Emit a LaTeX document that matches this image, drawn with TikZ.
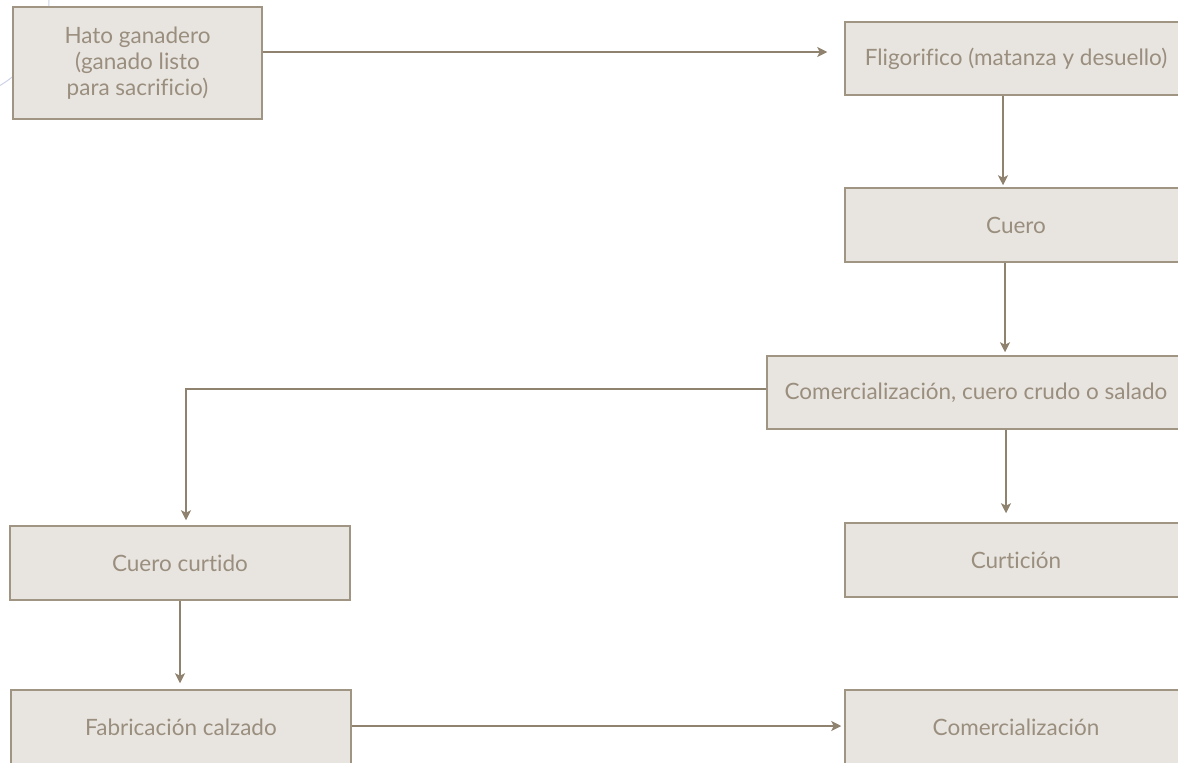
\documentclass[tikz,border=0pt]{standalone}
\usepackage{fontspec}
\setmainfont{Lato}[Ligatures={NoCommon,NoRare,NoDiscretionary}]
\usetikzlibrary{arrows.meta}
\definecolor{boxfill}{HTML}{E8E5E0}
\definecolor{boxline}{HTML}{A09482}
\definecolor{txt}{HTML}{9A8E7E}
\definecolor{arrcol}{HTML}{8F826F}
\definecolor{deco}{HTML}{CDD2E6}
\tikzset{
  stage/.style={draw=boxline, line width=1.5pt, fill=boxfill, text=txt,
    font=\fontsize{22.5}{26}\selectfont, align=center, inner sep=0pt},
  flow/.style={draw=arrcol, line width=1.3pt,
    -{Stealth[length=10pt,width=10pt,inset=2.5pt]}}
}
\begin{document}
\begin{tikzpicture}[x=1pt,y=-1pt]
\useasboundingbox (0,0) rectangle (1178,763);
\clip (0,0) rectangle (1178,763);
\draw[deco, line width=1pt] (-50,0) circle[radius=99];
\node[stage, minimum width=249pt, minimum height=112pt] (hato) at (137.5,63)
  {Hato ganadero\\(ganado listo\\para sacrificio)};
\node[stage, minimum width=342pt, minimum height=73pt] (flig) at (1016,58.5)
  {Fligorifico (matanza y desuello)};
\node[stage, minimum width=342pt, minimum height=74pt] (cuero) at (1016,225)
  {Cuero};
\node[stage, minimum width=418pt, minimum height=73pt] (comcs) at (976,392.5)
  {Comercialización, cuero crudo o salado};
\node[stage, minimum width=342pt, minimum height=74pt] (curt) at (1016,560)
  {Curtición};
\node[stage, minimum width=340pt, minimum height=74pt] (curtido) at (180,563)
  {Cuero curtido};
\node[stage, minimum width=340pt, minimum height=74pt] (fab) at (181,727)
  {Fabricación calzado};
\node[stage, minimum width=342pt, minimum height=74pt] (comerc) at (1016,727)
  {Comercialización};
\coordinate (bend) at (186,389);
\draw[flow, shorten >=17pt] (hato.east |- 0,52) -- (flig.west |- 0,52);
\draw[flow, shorten >=2pt] (flig.south -| 1003,0) -- (cuero.north -| 1003,0);
\draw[flow, shorten >=3pt] (cuero.south -| 1005,0) -- (comcs.north -| 1005,0);
\draw[flow, shorten >=9pt] (comcs.south -| 1006,0) -- (curt.north -| 1006,0);
\draw[flow, shorten >=5pt] (comcs.west |- bend) -- (bend) -- (curtido.north -| bend);
\draw[flow, shorten >=6pt] (curtido.south) -- (fab.north -| curtido.south);
\draw[flow, shorten >=3pt] (fab.east |- 0,726) -- (comerc.west |- 0,726);
\end{tikzpicture}
\end{document}
